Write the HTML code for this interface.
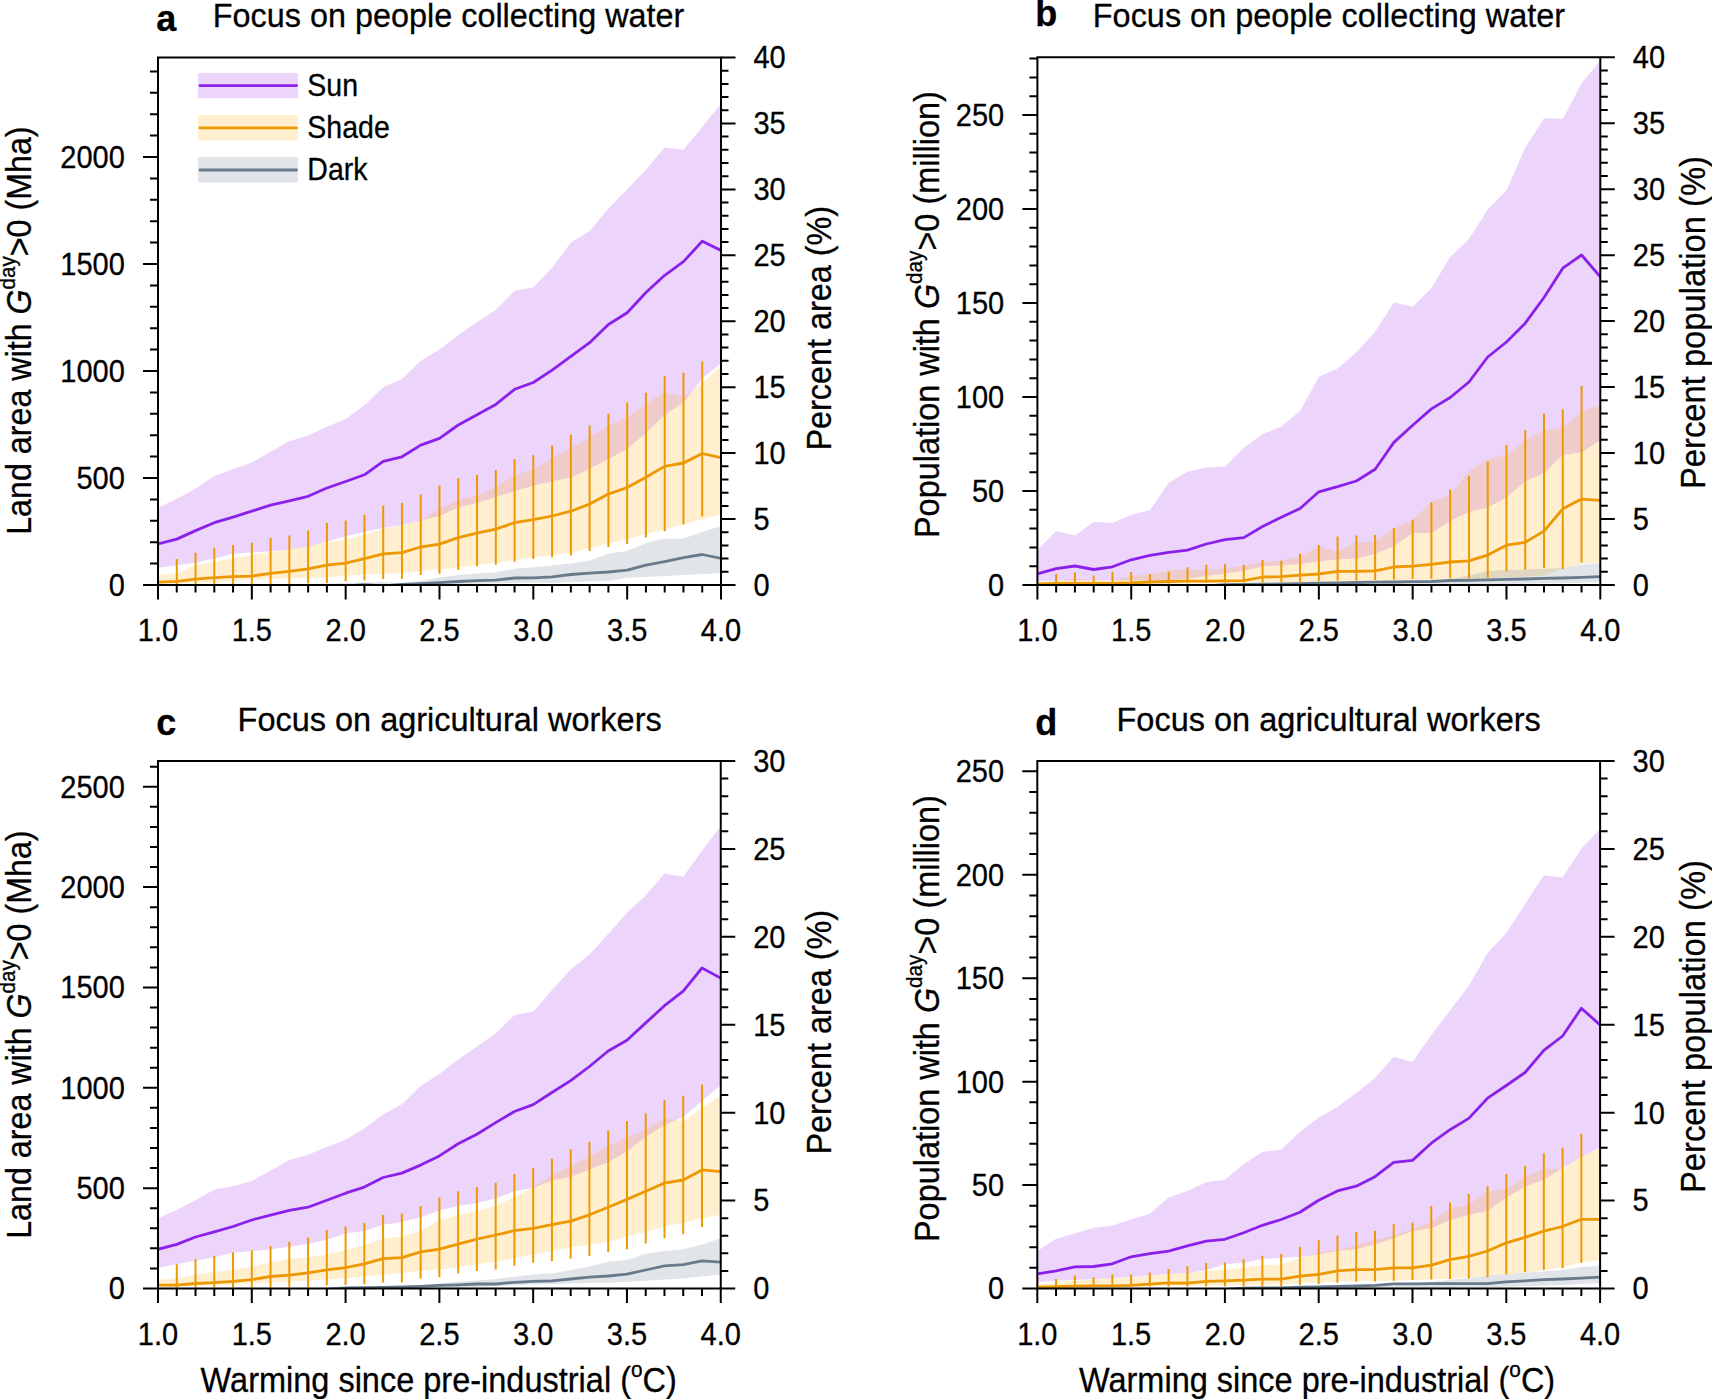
<!DOCTYPE html>
<html><head><meta charset="utf-8"><title>Figure</title>
<style>html,body{margin:0;padding:0;background:#fff;}svg{display:block;}svg text{stroke:#000;stroke-width:0.3px;}</style>
</head><body>
<svg width="1712" height="1399" viewBox="0 0 1712 1399" font-family="'Liberation Sans', Arial, Helvetica, sans-serif">
<rect width="1712" height="1399" fill="#fff"/>
<clipPath id="clipa"><rect x="158" y="57.5" width="563" height="527.5"/></clipPath>
<g clip-path="url(#clipa)">
<polygon points="158,507.7 176.77,498.7 195.53,488.7 214.3,476.1 233.07,469.2 251.83,462.5 270.6,451.8 289.37,441.3 308.13,435.6 326.9,426.7 345.67,419 364.43,405.3 383.2,387.3 401.97,379 420.73,360.7 439.5,349.5 458.27,335.3 477.03,322.1 495.8,310.1 514.57,290.7 533.33,287.5 552.1,267.8 570.87,242.4 589.63,231 608.4,208.4 627.17,189.5 645.93,169.8 664.7,147.5 683.47,149.7 702.23,126.9 721,103.7 721,363.2 702.23,378.4 683.47,402.6 664.7,415.1 645.93,432.9 627.17,449 608.4,458.9 589.63,468.7 570.87,477.6 552.1,481.2 533.33,485.7 514.57,491.1 495.8,497.1 477.03,503.1 458.27,507.6 439.5,515.9 420.73,520.4 401.97,524.9 383.2,527.9 364.43,531.7 345.67,536.2 326.9,541.5 308.13,546.4 289.37,549.4 270.6,551.3 251.83,552.5 233.07,553.7 214.3,558.5 195.53,562.8 176.77,565.2 158,568" fill="rgb(160,40,235)" fill-opacity="0.2"/>
<polygon points="158,574.9 176.77,573.3 195.53,565.2 214.3,561.8 233.07,558 251.83,555.5 270.6,551.8 289.37,549.8 308.13,546.3 326.9,542.1 345.67,540 364.43,534.7 383.2,528.6 401.97,525.6 420.73,520.4 439.5,509.1 458.27,500.1 477.03,495.6 495.8,487.4 514.57,475.3 533.33,469.6 552.1,458 570.87,448.1 589.63,437.4 608.4,425.4 627.17,417.2 645.93,404 664.7,391.8 683.47,397.6 702.23,382.9 721,365.9 721,514.3 702.23,519.6 683.47,524.1 664.7,529.4 645.93,533.9 627.17,539.3 608.4,543.7 589.63,548.2 570.87,552.7 552.1,555 533.33,557.5 514.57,559.9 495.8,562.9 477.03,565.2 458.27,567.5 439.5,569.3 420.73,571 401.97,573.1 383.2,574 364.43,574.5 345.67,575.7 326.9,577.5 308.13,578 289.37,578.5 270.6,579 251.83,579.5 233.07,581 214.3,582.5 195.53,583 176.77,583.5 158,584" fill="rgb(255,175,15)" fill-opacity="0.2"/>
<polygon points="158,585 176.77,585 195.53,585 214.3,585 233.07,585 251.83,585 270.6,585 289.37,584.5 308.13,584 326.9,583.5 345.67,583 364.43,582.5 383.2,582 401.97,583.3 420.73,581 439.5,577.5 458.27,575.1 477.03,573.4 495.8,572.2 514.57,568.7 533.33,567.3 552.1,565.6 570.87,563.4 589.63,560.7 608.4,553.6 627.17,550.9 645.93,542.9 664.7,538.4 683.47,538.4 702.23,532.1 721,525.9 721,573.2 702.23,574.1 683.47,575 664.7,575.9 645.93,577 627.17,577.7 608.4,581 589.63,581.5 570.87,582 552.1,583 533.33,582.5 514.57,583 495.8,583.4 477.03,583.7 458.27,584 439.5,584.3 420.73,584.5 401.97,585 383.2,585 364.43,585 345.67,585 326.9,585 308.13,585 289.37,585 270.6,585 251.83,585 233.07,585 214.3,585 195.53,585 176.77,585 158,585" fill="rgb(105,120,140)" fill-opacity="0.2"/>
<path d="M176.77 559.1V584M195.53 552.8V584M214.3 548V584M233.07 545.2V584M251.83 542.7V584M270.6 537.9V584M289.37 535.4V584M308.13 530.6V583.5M326.9 523V583M345.67 520.4V581.2M364.43 514.8V580.5M383.2 505.4V579M401.97 503.1V579M420.73 494.4V574.9M439.5 485.6V573.7M458.27 478.3V569.9M477.03 474.9V566.2M495.8 470.1V564.7M514.57 459.3V561.7M533.33 455.3V558.9M552.1 445.5V557.2M570.87 434.7V555.4M589.63 425.4V550.9M608.4 413.8V547M627.17 402.6V544.1M645.93 392.7V537.5M664.7 376.3V531.2M683.47 372.7V524.4M702.23 361.4V516.6" stroke="rgb(237,152,0)" stroke-width="2" fill="none"/>
<polyline points="158,585.8 176.77,585.8 195.53,585.8 214.3,585.8 233.07,585.8 251.83,585.8 270.6,585.8 289.37,585.8 308.13,585.8 326.9,585.8 345.67,585.8 364.43,584.6 383.2,585.8 401.97,584.5 420.73,583.6 439.5,582.7 458.27,581.5 477.03,580.6 495.8,580.1 514.57,578 533.33,577.8 552.1,576.8 570.87,574.5 589.63,573.2 608.4,572 627.17,570.2 645.93,565.2 664.7,561.6 683.47,557.7 702.23,554.5 721,558.4" stroke="rgb(104,122,140)" stroke-width="2.8" fill="none" stroke-linejoin="round"/>
<polyline points="158,582.2 176.77,581.4 195.53,579.2 214.3,577.6 233.07,576.7 251.83,576.1 270.6,573.3 289.37,571.3 308.13,568.8 326.9,565.2 345.67,563.2 364.43,558.7 383.2,553.9 401.97,552.7 420.73,547 439.5,544.1 458.27,537.7 477.03,533.2 495.8,529.1 514.57,522.6 533.33,519.6 552.1,516 570.87,511.2 589.63,504.1 608.4,494.1 627.17,487.5 645.93,477.3 664.7,466.4 683.47,463 702.23,453.5 721,457.6" stroke="rgb(237,152,0)" stroke-width="2.8" fill="none" stroke-linejoin="round"/>
<polyline points="158,543.9 176.77,539.1 195.53,530.6 214.3,522.7 233.07,517.2 251.83,511.1 270.6,505.1 289.37,500.8 308.13,496.3 326.9,488 345.67,481.5 364.43,474.8 383.2,461.4 401.97,456.8 420.73,445.1 439.5,438.4 458.27,425 477.03,414.7 495.8,404.4 514.57,389.3 533.33,382.5 552.1,370.1 570.87,356.4 589.63,342.7 608.4,324.5 627.17,312.7 645.93,292.5 664.7,275.3 683.47,261.6 702.23,241.3 721,250.4" stroke="rgb(138,32,233)" stroke-width="2.8" fill="none" stroke-linejoin="round"/>
</g>
<rect x="158" y="57.5" width="563" height="527.5" fill="none" stroke="#000" stroke-width="2"/>
<path d="M158 585v14.5M176.77 585v7.5M195.53 585v7.5M214.3 585v7.5M233.07 585v7.5M251.83 585v14.5M270.6 585v7.5M289.37 585v7.5M308.13 585v7.5M326.9 585v7.5M345.67 585v14.5M364.43 585v7.5M383.2 585v7.5M401.97 585v7.5M420.73 585v7.5M439.5 585v14.5M458.27 585v7.5M477.03 585v7.5M495.8 585v7.5M514.57 585v7.5M533.33 585v14.5M552.1 585v7.5M570.87 585v7.5M589.63 585v7.5M608.4 585v7.5M627.17 585v14.5M645.93 585v7.5M664.7 585v7.5M683.47 585v7.5M702.23 585v7.5M721 585v14.5M158 585h-15M158 563.6h-8M158 542.2h-8M158 520.8h-8M158 499.4h-8M158 478h-15M158 456.6h-8M158 435.2h-8M158 413.8h-8M158 392.4h-8M158 371h-15M158 349.6h-8M158 328.2h-8M158 306.8h-8M158 285.4h-8M158 264h-15M158 242.6h-8M158 221.2h-8M158 199.8h-8M158 178.4h-8M158 157h-15M158 135.6h-8M158 114.2h-8M158 92.8h-8M158 71.4h-8M721 585h14.5M721 571.81h7.5M721 558.62h7.5M721 545.44h7.5M721 532.25h7.5M721 519.06h14.5M721 505.88h7.5M721 492.69h7.5M721 479.5h7.5M721 466.31h7.5M721 453.12h14.5M721 439.94h7.5M721 426.75h7.5M721 413.56h7.5M721 400.38h7.5M721 387.19h14.5M721 374h7.5M721 360.81h7.5M721 347.62h7.5M721 334.44h7.5M721 321.25h14.5M721 308.06h7.5M721 294.88h7.5M721 281.69h7.5M721 268.5h7.5M721 255.31h14.5M721 242.12h7.5M721 228.94h7.5M721 215.75h7.5M721 202.56h7.5M721 189.38h14.5M721 176.19h7.5M721 163h7.5M721 149.81h7.5M721 136.62h7.5M721 123.44h14.5M721 110.25h7.5M721 97.06h7.5M721 83.88h7.5M721 70.69h7.5M721 57.5h14.5" stroke="#000" stroke-width="2" fill="none"/>
<g font-size="30.8"><text x="158" y="641" text-anchor="middle" textLength="40.31" lengthAdjust="spacingAndGlyphs">1.0</text><text x="251.83" y="641" text-anchor="middle" textLength="40.31" lengthAdjust="spacingAndGlyphs">1.5</text><text x="345.67" y="641" text-anchor="middle" textLength="40.31" lengthAdjust="spacingAndGlyphs">2.0</text><text x="439.5" y="641" text-anchor="middle" textLength="40.31" lengthAdjust="spacingAndGlyphs">2.5</text><text x="533.33" y="641" text-anchor="middle" textLength="40.31" lengthAdjust="spacingAndGlyphs">3.0</text><text x="627.17" y="641" text-anchor="middle" textLength="40.31" lengthAdjust="spacingAndGlyphs">3.5</text><text x="721" y="641" text-anchor="middle" textLength="40.31" lengthAdjust="spacingAndGlyphs">4.0</text><text x="124.8" y="595.9" text-anchor="end" textLength="16.12" lengthAdjust="spacingAndGlyphs">0</text><text x="124.8" y="488.9" text-anchor="end" textLength="48.37" lengthAdjust="spacingAndGlyphs">500</text><text x="124.8" y="381.9" text-anchor="end" textLength="64.5" lengthAdjust="spacingAndGlyphs">1000</text><text x="124.8" y="274.9" text-anchor="end" textLength="64.5" lengthAdjust="spacingAndGlyphs">1500</text><text x="124.8" y="167.9" text-anchor="end" textLength="64.5" lengthAdjust="spacingAndGlyphs">2000</text><text x="753.5" y="595.9" textLength="16.12" lengthAdjust="spacingAndGlyphs">0</text><text x="753.5" y="529.96" textLength="16.12" lengthAdjust="spacingAndGlyphs">5</text><text x="753.5" y="464.02" textLength="32.25" lengthAdjust="spacingAndGlyphs">10</text><text x="753.5" y="398.09" textLength="32.25" lengthAdjust="spacingAndGlyphs">15</text><text x="753.5" y="332.15" textLength="32.25" lengthAdjust="spacingAndGlyphs">20</text><text x="753.5" y="266.21" textLength="32.25" lengthAdjust="spacingAndGlyphs">25</text><text x="753.5" y="200.28" textLength="32.25" lengthAdjust="spacingAndGlyphs">30</text><text x="753.5" y="134.34" textLength="32.25" lengthAdjust="spacingAndGlyphs">35</text><text x="753.5" y="68.4" textLength="32.25" lengthAdjust="spacingAndGlyphs">40</text></g>
<clipPath id="clipb"><rect x="1037.4" y="57.25" width="562.9" height="527.75"/></clipPath>
<g clip-path="url(#clipb)">
<polygon points="1037.4,550 1056.16,530.9 1074.93,535.4 1093.69,522 1112.45,523 1131.22,514.8 1149.98,510.2 1168.74,482.7 1187.51,471.7 1206.27,467.5 1225.03,466.4 1243.8,447.7 1262.56,434.2 1281.32,426.6 1300.09,411 1318.85,376.7 1337.61,368.5 1356.38,352.3 1375.14,331.7 1393.9,302.6 1412.67,306.7 1431.43,288 1450.19,257.1 1468.96,239.1 1487.72,209.5 1506.48,190.2 1525.25,147.8 1544.01,118.2 1562.77,118.9 1581.54,83.4 1600.3,60.3 1600.3,440.6 1581.54,452.3 1562.77,455.1 1544.01,473.2 1525.25,481.3 1506.48,497.6 1487.72,507.6 1468.96,512.1 1450.19,521.1 1431.43,532.9 1412.67,532.9 1393.9,546.5 1375.14,553.7 1356.38,558.8 1337.61,559.2 1318.85,561.5 1300.09,563.8 1281.32,565.2 1262.56,566.4 1243.8,570.8 1225.03,573.4 1206.27,576.1 1187.51,578.7 1168.74,580.2 1149.98,580.5 1131.22,580.5 1112.45,580.6 1093.69,580.6 1074.93,580.4 1056.16,580.6 1037.4,581" fill="rgb(160,40,235)" fill-opacity="0.2"/>
<polygon points="1037.4,582.2 1056.16,580.5 1074.93,578.7 1093.69,580.5 1112.45,580.5 1131.22,575.7 1149.98,574.7 1168.74,570.3 1187.51,569.4 1206.27,569.9 1225.03,568.7 1243.8,565.9 1262.56,561.7 1281.32,560.8 1300.09,556.5 1318.85,546.5 1337.61,551.9 1356.38,542 1375.14,542 1393.9,528.4 1412.67,520.2 1431.43,502.1 1450.19,494.9 1468.96,471.4 1487.72,459.2 1506.48,455.1 1525.25,440.6 1544.01,429.7 1562.77,427.9 1581.54,411.6 1600.3,405.3 1600.3,562.6 1581.54,563.9 1562.77,568.2 1544.01,575.5 1525.25,576.4 1506.48,577.3 1487.72,578.2 1468.96,579 1450.19,580 1431.43,580.2 1412.67,580.5 1393.9,580.8 1375.14,581.1 1356.38,581.4 1337.61,581.7 1318.85,582 1300.09,582.2 1281.32,582.4 1262.56,582.6 1243.8,582.8 1225.03,583 1206.27,583.2 1187.51,583.4 1168.74,583.6 1149.98,583.8 1131.22,584 1112.45,584.1 1093.69,584.2 1074.93,584.3 1056.16,584.4 1037.4,584.5" fill="rgb(255,175,15)" fill-opacity="0.2"/>
<polygon points="1037.4,585 1056.16,585 1074.93,585 1093.69,585 1112.45,585 1131.22,585 1149.98,585 1168.74,584.8 1187.51,584.6 1206.27,584.4 1225.03,584.2 1243.8,584 1262.56,583.8 1281.32,583.6 1300.09,583.4 1318.85,583.2 1337.61,583 1356.38,582.8 1375.14,582.6 1393.9,582.3 1412.67,582 1431.43,581 1450.19,579.3 1468.96,575.6 1487.72,570.7 1506.48,570.1 1525.25,569.4 1544.01,568.8 1562.77,568 1581.54,564.8 1600.3,563.1 1600.3,582.3 1581.54,582.8 1562.77,583.2 1544.01,583.5 1525.25,583.8 1506.48,584 1487.72,584.2 1468.96,584.4 1450.19,584.6 1431.43,584.8 1412.67,585 1393.9,585 1375.14,585 1356.38,585 1337.61,585 1318.85,585 1300.09,585 1281.32,585 1262.56,585 1243.8,585 1225.03,585 1206.27,585 1187.51,585 1168.74,585 1149.98,585 1131.22,585 1112.45,585 1093.69,585 1074.93,585 1056.16,585 1037.4,585" fill="rgb(105,120,140)" fill-opacity="0.2"/>
<path d="M1056.16 574V584M1074.93 572.6V584M1093.69 575.4V583.8M1112.45 572V583.8M1131.22 571.9V583.6M1149.98 574V583.5M1168.74 571.7V583.4M1187.51 567.3V583.2M1206.27 564.7V583M1225.03 564.2V582.8M1243.8 564.7V582.6M1262.56 560V582.4M1281.32 560.8V582.2M1300.09 553.8V582M1318.85 545V581.3M1337.61 536.5V580.5M1356.38 535.6V580.5M1375.14 534.7V580M1393.9 528V579.4M1412.67 519.7V579M1431.43 502.5V578.8M1450.19 489.5V578.3M1468.96 475.9V578.4M1487.72 461.8V577.8M1506.48 445.1V571.6M1525.25 430.3V569.7M1544.01 413.6V568M1562.77 409.4V569.2M1581.54 385.9V562.6" stroke="rgb(237,152,0)" stroke-width="2" fill="none"/>
<polyline points="1037.4,585.8 1056.16,585.8 1074.93,585.8 1093.69,585.8 1112.45,585.8 1131.22,585.8 1149.98,585.8 1168.74,585.8 1187.51,585.8 1206.27,585.8 1225.03,584.6 1243.8,584.4 1262.56,584.2 1281.32,584 1300.09,583.6 1318.85,583.2 1337.61,582.8 1356.38,582.5 1375.14,582.2 1393.9,582 1412.67,581.7 1431.43,581.5 1450.19,580.5 1468.96,580.3 1487.72,579.9 1506.48,579.3 1525.25,579 1544.01,578.4 1562.77,578 1581.54,577.4 1600.3,576.6" stroke="rgb(104,122,140)" stroke-width="2.8" fill="none" stroke-linejoin="round"/>
<polyline points="1037.4,583.8 1056.16,583.5 1074.93,583.3 1093.69,583.3 1112.45,583.3 1131.22,582.9 1149.98,582 1168.74,581.5 1187.51,581.2 1206.27,581.2 1225.03,580.8 1243.8,580.6 1262.56,577 1281.32,576.6 1300.09,575.2 1318.85,574 1337.61,571.3 1356.38,571.3 1375.14,570.9 1393.9,567 1412.67,566.2 1431.43,564.3 1450.19,562 1468.96,560.8 1487.72,555.1 1506.48,545.2 1525.25,542.3 1544.01,531.1 1562.77,508.8 1581.54,499.1 1600.3,500.3" stroke="rgb(237,152,0)" stroke-width="2.8" fill="none" stroke-linejoin="round"/>
<polyline points="1037.4,573.8 1056.16,568.6 1074.93,566 1093.69,569.5 1112.45,566.8 1131.22,559.8 1149.98,555.4 1168.74,552.3 1187.51,550.2 1206.27,544 1225.03,539.7 1243.8,537.6 1262.56,526.5 1281.32,517.2 1300.09,508.5 1318.85,491.8 1337.61,486.7 1356.38,481 1375.14,469.2 1393.9,442.4 1412.67,425.2 1431.43,408.9 1450.19,397.5 1468.96,382 1487.72,357 1506.48,342 1525.25,323.2 1544.01,297.5 1562.77,268.2 1581.54,255 1600.3,276.9" stroke="rgb(138,32,233)" stroke-width="2.8" fill="none" stroke-linejoin="round"/>
</g>
<rect x="1037.4" y="57.25" width="562.9" height="527.75" fill="none" stroke="#000" stroke-width="2"/>
<path d="M1037.4 585v14.5M1056.16 585v7.5M1074.93 585v7.5M1093.69 585v7.5M1112.45 585v7.5M1131.22 585v14.5M1149.98 585v7.5M1168.74 585v7.5M1187.51 585v7.5M1206.27 585v7.5M1225.03 585v14.5M1243.8 585v7.5M1262.56 585v7.5M1281.32 585v7.5M1300.09 585v7.5M1318.85 585v14.5M1337.61 585v7.5M1356.38 585v7.5M1375.14 585v7.5M1393.9 585v7.5M1412.67 585v14.5M1431.43 585v7.5M1450.19 585v7.5M1468.96 585v7.5M1487.72 585v7.5M1506.48 585v14.5M1525.25 585v7.5M1544.01 585v7.5M1562.77 585v7.5M1581.54 585v7.5M1600.3 585v14.5M1037.4 585h-15M1037.4 566.2h-8M1037.4 547.4h-8M1037.4 528.6h-8M1037.4 509.8h-8M1037.4 491h-15M1037.4 472.2h-8M1037.4 453.4h-8M1037.4 434.6h-8M1037.4 415.8h-8M1037.4 397h-15M1037.4 378.2h-8M1037.4 359.4h-8M1037.4 340.6h-8M1037.4 321.8h-8M1037.4 303h-15M1037.4 284.2h-8M1037.4 265.4h-8M1037.4 246.6h-8M1037.4 227.8h-8M1037.4 209h-15M1037.4 190.2h-8M1037.4 171.4h-8M1037.4 152.6h-8M1037.4 133.8h-8M1037.4 115h-15M1037.4 96.2h-8M1037.4 77.4h-8M1037.4 58.6h-8M1600.3 585h14.5M1600.3 571.81h7.5M1600.3 558.61h7.5M1600.3 545.42h7.5M1600.3 532.23h7.5M1600.3 519.03h14.5M1600.3 505.84h7.5M1600.3 492.64h7.5M1600.3 479.45h7.5M1600.3 466.26h7.5M1600.3 453.06h14.5M1600.3 439.87h7.5M1600.3 426.68h7.5M1600.3 413.48h7.5M1600.3 400.29h7.5M1600.3 387.09h14.5M1600.3 373.9h7.5M1600.3 360.71h7.5M1600.3 347.51h7.5M1600.3 334.32h7.5M1600.3 321.12h14.5M1600.3 307.93h7.5M1600.3 294.74h7.5M1600.3 281.54h7.5M1600.3 268.35h7.5M1600.3 255.16h14.5M1600.3 241.96h7.5M1600.3 228.77h7.5M1600.3 215.57h7.5M1600.3 202.38h7.5M1600.3 189.19h14.5M1600.3 175.99h7.5M1600.3 162.8h7.5M1600.3 149.61h7.5M1600.3 136.41h7.5M1600.3 123.22h14.5M1600.3 110.02h7.5M1600.3 96.83h7.5M1600.3 83.64h7.5M1600.3 70.44h7.5M1600.3 57.25h14.5" stroke="#000" stroke-width="2" fill="none"/>
<g font-size="30.8"><text x="1037.4" y="641" text-anchor="middle" textLength="40.31" lengthAdjust="spacingAndGlyphs">1.0</text><text x="1131.22" y="641" text-anchor="middle" textLength="40.31" lengthAdjust="spacingAndGlyphs">1.5</text><text x="1225.03" y="641" text-anchor="middle" textLength="40.31" lengthAdjust="spacingAndGlyphs">2.0</text><text x="1318.85" y="641" text-anchor="middle" textLength="40.31" lengthAdjust="spacingAndGlyphs">2.5</text><text x="1412.67" y="641" text-anchor="middle" textLength="40.31" lengthAdjust="spacingAndGlyphs">3.0</text><text x="1506.48" y="641" text-anchor="middle" textLength="40.31" lengthAdjust="spacingAndGlyphs">3.5</text><text x="1600.3" y="641" text-anchor="middle" textLength="40.31" lengthAdjust="spacingAndGlyphs">4.0</text><text x="1004.2" y="595.9" text-anchor="end" textLength="16.12" lengthAdjust="spacingAndGlyphs">0</text><text x="1004.2" y="501.9" text-anchor="end" textLength="32.25" lengthAdjust="spacingAndGlyphs">50</text><text x="1004.2" y="407.9" text-anchor="end" textLength="48.37" lengthAdjust="spacingAndGlyphs">100</text><text x="1004.2" y="313.9" text-anchor="end" textLength="48.37" lengthAdjust="spacingAndGlyphs">150</text><text x="1004.2" y="219.9" text-anchor="end" textLength="48.37" lengthAdjust="spacingAndGlyphs">200</text><text x="1004.2" y="125.9" text-anchor="end" textLength="48.37" lengthAdjust="spacingAndGlyphs">250</text><text x="1632.8" y="595.9" textLength="16.12" lengthAdjust="spacingAndGlyphs">0</text><text x="1632.8" y="529.93" textLength="16.12" lengthAdjust="spacingAndGlyphs">5</text><text x="1632.8" y="463.96" textLength="32.25" lengthAdjust="spacingAndGlyphs">10</text><text x="1632.8" y="397.99" textLength="32.25" lengthAdjust="spacingAndGlyphs">15</text><text x="1632.8" y="332.02" textLength="32.25" lengthAdjust="spacingAndGlyphs">20</text><text x="1632.8" y="266.06" textLength="32.25" lengthAdjust="spacingAndGlyphs">25</text><text x="1632.8" y="200.09" textLength="32.25" lengthAdjust="spacingAndGlyphs">30</text><text x="1632.8" y="134.12" textLength="32.25" lengthAdjust="spacingAndGlyphs">35</text><text x="1632.8" y="68.15" textLength="32.25" lengthAdjust="spacingAndGlyphs">40</text></g>
<clipPath id="clipc"><rect x="158" y="761" width="562.75" height="527.5"/></clipPath>
<g clip-path="url(#clipc)">
<polygon points="158,1218.3 176.76,1209.9 195.52,1200.2 214.28,1189.4 233.03,1186.2 251.79,1181 270.55,1170.5 289.31,1159.9 308.07,1154.7 326.82,1147.1 345.58,1139.8 364.34,1128.4 383.1,1114.4 401.86,1104.3 420.62,1085.9 439.38,1074.1 458.13,1059.5 476.89,1046.5 495.65,1033.5 514.41,1015.1 533.17,1011.8 551.92,989.9 570.68,969.4 589.44,954.5 608.2,934 626.96,912.8 645.72,895.5 664.48,873.6 683.23,876.7 701.99,850.7 720.75,826 720.75,1085 701.99,1101 683.23,1117 664.48,1125.1 645.72,1136.9 626.96,1151.4 608.2,1162.3 589.44,1169.5 570.68,1176.7 551.92,1180.4 533.17,1188 514.41,1191.2 495.65,1198.5 476.89,1203 458.13,1206.1 439.38,1210.5 420.62,1217.2 401.86,1222.1 383.1,1224.8 364.34,1230.9 345.58,1233.5 326.82,1239.7 308.07,1244 289.31,1246.7 270.55,1249.3 251.79,1251.1 233.03,1252.8 214.28,1257.2 195.52,1260.7 176.76,1264.2 158,1267.7" fill="rgb(160,40,235)" fill-opacity="0.2"/>
<polygon points="158,1280 176.76,1278.2 195.52,1274.7 214.28,1272.1 233.03,1269.5 251.79,1266.8 270.55,1262.4 289.31,1258.9 308.07,1257.2 326.82,1254.6 345.58,1250.2 364.34,1244.9 383.1,1238.8 401.86,1236.2 420.62,1230.9 439.38,1220 458.13,1215 476.89,1211 495.65,1206 514.41,1197 533.17,1187.6 551.92,1174.9 570.68,1165.9 589.44,1156.8 608.2,1146 626.96,1136.9 645.72,1129.7 664.48,1117.9 683.23,1121.5 701.99,1108 720.75,1095.5 720.75,1214.8 701.99,1218.4 683.23,1222.9 664.48,1226.5 645.72,1232 626.96,1236.5 608.2,1241.9 589.44,1244.6 570.68,1247.4 551.92,1251 533.17,1254.6 514.41,1258.2 495.65,1261.8 476.89,1264.6 458.13,1267.3 439.38,1269.4 420.62,1270.8 401.86,1273 383.1,1274.7 364.34,1276.5 345.58,1278.2 326.82,1279.5 308.07,1280.8 289.31,1281.7 270.55,1282.6 251.79,1283.5 233.03,1284.9 214.28,1285.4 195.52,1285.8 176.76,1286.2 158,1286.5" fill="rgb(255,175,15)" fill-opacity="0.2"/>
<polygon points="158,1288.5 176.76,1288.5 195.52,1288.5 214.28,1288.5 233.03,1288.5 251.79,1288.5 270.55,1288.5 289.31,1288.3 308.07,1288 326.82,1287.6 345.58,1287.2 364.34,1286.8 383.1,1286.4 401.86,1286 420.62,1285.4 439.38,1283.6 458.13,1281.8 476.89,1280.4 495.65,1279 514.41,1276.8 533.17,1274.5 551.92,1273.6 570.68,1270 589.44,1266.4 608.2,1261.8 626.96,1260 645.72,1253.7 664.48,1251 683.23,1249.2 701.99,1244.6 720.75,1238.3 720.75,1274.5 701.99,1276.5 683.23,1278.5 664.48,1279.6 645.72,1280.8 626.96,1281.7 608.2,1282.7 589.44,1283.1 570.68,1283.5 551.92,1284 533.17,1284.5 514.41,1285.2 495.65,1286 476.89,1287 458.13,1288 439.38,1288.5 420.62,1288.5 401.86,1288.5 383.1,1288.5 364.34,1288.5 345.58,1288.5 326.82,1288.5 308.07,1288.5 289.31,1288.5 270.55,1288.5 251.79,1288.5 233.03,1288.5 214.28,1288.5 195.52,1288.5 176.76,1288.5 158,1288.5" fill="rgb(105,120,140)" fill-opacity="0.2"/>
<path d="M176.76 1264.2V1287.5M195.52 1259.3V1287.5M214.28 1255.8V1287.5M233.03 1252.3V1287.5M251.79 1250.5V1287.5M270.55 1246V1287.5M289.31 1241.8V1287.5M308.07 1237.4V1287.5M326.82 1229.9V1285.2M345.58 1226.5V1284.9M364.34 1223V1284.3M383.1 1215.1V1282.6M401.86 1213.4V1282.6M420.62 1206.2V1278.5M439.38 1197.6V1277.2M458.13 1191.2V1273.6M476.89 1187.2V1270.9M495.65 1182.7V1269.4M514.41 1174V1265.8M533.17 1168V1262.7M551.92 1158.6V1260.9M570.68 1149.2V1258.6M589.44 1141.8V1256M608.2 1130.6V1252.2M626.96 1121V1249.2M645.72 1113.4V1243.4M664.48 1100.2V1238.3M683.23 1095.8V1234.3M701.99 1084.4V1227.1" stroke="rgb(237,152,0)" stroke-width="2" fill="none"/>
<polyline points="158,1289.3 176.76,1289.3 195.52,1289.3 214.28,1289.3 233.03,1289.3 251.79,1289.3 270.55,1289.3 289.31,1289.3 308.07,1289.3 326.82,1289.3 345.58,1288 364.34,1287.7 383.1,1287.3 401.86,1286.8 420.62,1286.3 439.38,1285.4 458.13,1284.8 476.89,1284 495.65,1284 514.41,1282.3 533.17,1281.4 551.92,1280.8 570.68,1279 589.44,1277.2 608.2,1276 626.96,1274.2 645.72,1270 664.48,1265.8 683.23,1264.6 701.99,1260.9 720.75,1262.2" stroke="rgb(104,122,140)" stroke-width="2.8" fill="none" stroke-linejoin="round"/>
<polyline points="158,1285.2 176.76,1285.2 195.52,1283.5 214.28,1282.6 233.03,1281.4 251.79,1279.6 270.55,1276.5 289.31,1275.2 308.07,1272.9 326.82,1269.8 345.58,1267.7 364.34,1263.8 383.1,1258.6 401.86,1257.7 420.62,1251.8 439.38,1249.2 458.13,1244.1 476.89,1239.2 495.65,1235 514.41,1230.7 533.17,1228.3 551.92,1224.7 570.68,1221.1 589.44,1214.8 608.2,1207.2 626.96,1199.4 645.72,1191.2 664.48,1183.1 683.23,1180 701.99,1169.9 720.75,1171.7" stroke="rgb(237,152,0)" stroke-width="2.8" fill="none" stroke-linejoin="round"/>
<polyline points="158,1249.3 176.76,1244.4 195.52,1237 214.28,1231.8 233.03,1226.5 251.79,1220 270.55,1215.1 289.31,1210.4 308.07,1207.2 326.82,1200.2 345.58,1193.2 364.34,1187.1 383.1,1177.5 401.86,1173.1 420.62,1165.1 439.38,1155.9 458.13,1143.8 476.89,1134.2 495.65,1122.6 514.41,1111.5 533.17,1104.6 551.92,1092.5 570.68,1080.6 589.44,1066.5 608.2,1051 626.96,1040.2 645.72,1022.9 664.48,1005.7 683.23,991.1 701.99,968 720.75,978.1" stroke="rgb(138,32,233)" stroke-width="2.8" fill="none" stroke-linejoin="round"/>
</g>
<rect x="158" y="761" width="562.75" height="527.5" fill="none" stroke="#000" stroke-width="2"/>
<path d="M158 1288.5v14.5M176.76 1288.5v7.5M195.52 1288.5v7.5M214.28 1288.5v7.5M233.03 1288.5v7.5M251.79 1288.5v14.5M270.55 1288.5v7.5M289.31 1288.5v7.5M308.07 1288.5v7.5M326.82 1288.5v7.5M345.58 1288.5v14.5M364.34 1288.5v7.5M383.1 1288.5v7.5M401.86 1288.5v7.5M420.62 1288.5v7.5M439.38 1288.5v14.5M458.13 1288.5v7.5M476.89 1288.5v7.5M495.65 1288.5v7.5M514.41 1288.5v7.5M533.17 1288.5v14.5M551.92 1288.5v7.5M570.68 1288.5v7.5M589.44 1288.5v7.5M608.2 1288.5v7.5M626.96 1288.5v14.5M645.72 1288.5v7.5M664.48 1288.5v7.5M683.23 1288.5v7.5M701.99 1288.5v7.5M720.75 1288.5v14.5M158 1288.5h-15M158 1268.43h-8M158 1248.36h-8M158 1228.29h-8M158 1208.22h-8M158 1188.15h-15M158 1168.08h-8M158 1148.01h-8M158 1127.94h-8M158 1107.87h-8M158 1087.8h-15M158 1067.73h-8M158 1047.66h-8M158 1027.59h-8M158 1007.52h-8M158 987.45h-15M158 967.38h-8M158 947.31h-8M158 927.24h-8M158 907.17h-8M158 887.1h-15M158 867.03h-8M158 846.96h-8M158 826.89h-8M158 806.82h-8M158 786.75h-15M158 766.68h-8M720.75 1288.5h14.5M720.75 1270.92h7.5M720.75 1253.33h7.5M720.75 1235.75h7.5M720.75 1218.17h7.5M720.75 1200.58h14.5M720.75 1183h7.5M720.75 1165.42h7.5M720.75 1147.83h7.5M720.75 1130.25h7.5M720.75 1112.67h14.5M720.75 1095.08h7.5M720.75 1077.5h7.5M720.75 1059.92h7.5M720.75 1042.33h7.5M720.75 1024.75h14.5M720.75 1007.17h7.5M720.75 989.58h7.5M720.75 972h7.5M720.75 954.42h7.5M720.75 936.83h14.5M720.75 919.25h7.5M720.75 901.67h7.5M720.75 884.08h7.5M720.75 866.5h7.5M720.75 848.92h14.5M720.75 831.33h7.5M720.75 813.75h7.5M720.75 796.17h7.5M720.75 778.58h7.5M720.75 761h14.5" stroke="#000" stroke-width="2" fill="none"/>
<g font-size="30.8"><text x="158" y="1344.5" text-anchor="middle" textLength="40.31" lengthAdjust="spacingAndGlyphs">1.0</text><text x="251.79" y="1344.5" text-anchor="middle" textLength="40.31" lengthAdjust="spacingAndGlyphs">1.5</text><text x="345.58" y="1344.5" text-anchor="middle" textLength="40.31" lengthAdjust="spacingAndGlyphs">2.0</text><text x="439.38" y="1344.5" text-anchor="middle" textLength="40.31" lengthAdjust="spacingAndGlyphs">2.5</text><text x="533.17" y="1344.5" text-anchor="middle" textLength="40.31" lengthAdjust="spacingAndGlyphs">3.0</text><text x="626.96" y="1344.5" text-anchor="middle" textLength="40.31" lengthAdjust="spacingAndGlyphs">3.5</text><text x="720.75" y="1344.5" text-anchor="middle" textLength="40.31" lengthAdjust="spacingAndGlyphs">4.0</text><text x="124.8" y="1299.4" text-anchor="end" textLength="16.12" lengthAdjust="spacingAndGlyphs">0</text><text x="124.8" y="1199.05" text-anchor="end" textLength="48.37" lengthAdjust="spacingAndGlyphs">500</text><text x="124.8" y="1098.7" text-anchor="end" textLength="64.5" lengthAdjust="spacingAndGlyphs">1000</text><text x="124.8" y="998.35" text-anchor="end" textLength="64.5" lengthAdjust="spacingAndGlyphs">1500</text><text x="124.8" y="898" text-anchor="end" textLength="64.5" lengthAdjust="spacingAndGlyphs">2000</text><text x="124.8" y="797.65" text-anchor="end" textLength="64.5" lengthAdjust="spacingAndGlyphs">2500</text><text x="753.25" y="1299.4" textLength="16.12" lengthAdjust="spacingAndGlyphs">0</text><text x="753.25" y="1211.48" textLength="16.12" lengthAdjust="spacingAndGlyphs">5</text><text x="753.25" y="1123.57" textLength="32.25" lengthAdjust="spacingAndGlyphs">10</text><text x="753.25" y="1035.65" textLength="32.25" lengthAdjust="spacingAndGlyphs">15</text><text x="753.25" y="947.73" textLength="32.25" lengthAdjust="spacingAndGlyphs">20</text><text x="753.25" y="859.82" textLength="32.25" lengthAdjust="spacingAndGlyphs">25</text><text x="753.25" y="771.9" textLength="32.25" lengthAdjust="spacingAndGlyphs">30</text></g>
<clipPath id="clipd"><rect x="1037.3" y="761" width="562.8" height="527.5"/></clipPath>
<g clip-path="url(#clipd)">
<polygon points="1037.3,1251.1 1056.06,1238.8 1074.82,1233.5 1093.58,1227.8 1112.34,1225.6 1131.1,1219.5 1149.86,1213.7 1168.62,1197.6 1187.38,1191 1206.14,1182.2 1224.9,1179.7 1243.66,1164.3 1262.42,1152.1 1281.18,1149.4 1299.94,1132 1318.7,1117.5 1337.46,1107 1356.22,1093.1 1374.98,1078.1 1393.74,1056.8 1412.5,1061.9 1431.26,1034.9 1450.02,1010.5 1468.78,986.1 1487.54,952.9 1506.3,933 1525.06,904.1 1543.82,875.3 1562.58,877.6 1581.34,848.7 1600.1,828.8 1600.1,1147.8 1581.34,1156.8 1562.58,1168.6 1543.82,1179.5 1525.06,1186.7 1506.3,1197.6 1487.54,1211.1 1468.78,1214.8 1450.02,1220.2 1431.26,1228.3 1412.5,1231.1 1393.74,1238.3 1374.98,1244.6 1356.22,1249.2 1337.46,1251 1318.7,1254.2 1299.94,1256.8 1281.18,1258.1 1262.42,1258.9 1243.66,1262.8 1224.9,1264.2 1206.14,1270.3 1187.38,1273 1168.62,1273.8 1149.86,1275.6 1131.1,1277.3 1112.34,1278.2 1093.58,1279.1 1074.82,1280 1056.06,1280.8 1037.3,1282.6" fill="rgb(160,40,235)" fill-opacity="0.2"/>
<polygon points="1037.3,1284.3 1056.06,1282.6 1074.82,1280.8 1093.58,1279.6 1112.34,1278.6 1131.1,1277.9 1149.86,1275.6 1168.62,1273.8 1187.38,1273 1206.14,1271.2 1224.9,1269.5 1243.66,1267.7 1262.42,1265.1 1281.18,1264.2 1299.94,1258.1 1318.7,1252.4 1337.46,1250.1 1356.22,1245.5 1374.98,1240.1 1393.74,1235.6 1412.5,1229.3 1431.26,1222 1450.02,1208.4 1468.78,1204.8 1487.54,1191.2 1506.3,1189.4 1525.06,1176.7 1543.82,1168.6 1562.58,1169.5 1581.34,1155.9 1600.1,1148.7 1600.1,1260 1581.34,1262.7 1562.58,1267.3 1543.82,1270 1525.06,1272.7 1506.3,1274 1487.54,1275.4 1468.78,1277.5 1450.02,1279 1431.26,1279.5 1412.5,1280 1393.74,1280.5 1374.98,1280.8 1356.22,1281 1337.46,1281.5 1318.7,1282.5 1299.94,1283 1281.18,1284.5 1262.42,1285 1243.66,1285.3 1224.9,1285.5 1206.14,1285.7 1187.38,1285.9 1168.62,1286.1 1149.86,1286.3 1131.1,1286.5 1112.34,1286.7 1093.58,1286.9 1074.82,1287.1 1056.06,1287.3 1037.3,1287.5" fill="rgb(255,175,15)" fill-opacity="0.2"/>
<polygon points="1037.3,1288.5 1056.06,1288.5 1074.82,1288.5 1093.58,1288.5 1112.34,1288.5 1131.1,1288.5 1149.86,1288.5 1168.62,1288.5 1187.38,1288.3 1206.14,1288.1 1224.9,1287.9 1243.66,1287.7 1262.42,1287.5 1281.18,1287.3 1299.94,1287 1318.7,1286.6 1337.46,1286.2 1356.22,1285.8 1374.98,1285.3 1393.74,1284.6 1412.5,1283.8 1431.26,1282 1450.02,1280 1468.78,1278.1 1487.54,1275.4 1506.3,1274 1525.06,1272.7 1543.82,1271.3 1562.58,1270 1581.34,1266.9 1600.1,1265.5 1600.1,1283 1581.34,1284 1562.58,1285 1543.82,1285.8 1525.06,1286.3 1506.3,1286.8 1487.54,1287.2 1468.78,1287.6 1450.02,1288 1431.26,1288.3 1412.5,1288.5 1393.74,1288.5 1374.98,1288.5 1356.22,1288.5 1337.46,1288.5 1318.7,1288.5 1299.94,1288.5 1281.18,1288.5 1262.42,1288.5 1243.66,1288.5 1224.9,1288.5 1206.14,1288.5 1187.38,1288.5 1168.62,1288.5 1149.86,1288.5 1131.1,1288.5 1112.34,1288.5 1093.58,1288.5 1074.82,1288.5 1056.06,1288.5 1037.3,1288.5" fill="rgb(105,120,140)" fill-opacity="0.2"/>
<path d="M1056.06 1279.1V1286.6M1074.82 1275.6V1286.6M1093.58 1277.3V1286.6M1112.34 1274.4V1286.6M1131.1 1274.7V1286.6M1149.86 1272.6V1286.6M1168.62 1269.1V1286.6M1187.38 1266.3V1286.6M1206.14 1263V1286.6M1224.9 1262.4V1286.6M1243.66 1259.3V1286.6M1262.42 1255.8V1286.6M1281.18 1254V1286.6M1299.94 1247V1285M1318.7 1240.3V1283.9M1337.46 1235.6V1282.7M1356.22 1232V1281.8M1374.98 1230.7V1281.4M1393.74 1224.2V1280.8M1412.5 1222.4V1280M1431.26 1206.1V1279.6M1450.02 1202.5V1279M1468.78 1194V1278.5M1487.54 1186.2V1277.2M1506.3 1174V1274.5M1525.06 1165.9V1271.8M1543.82 1153.6V1270M1562.58 1147.8V1268.2M1581.34 1133.7V1262.7" stroke="rgb(237,152,0)" stroke-width="2" fill="none"/>
<polyline points="1037.3,1289.3 1056.06,1289.3 1074.82,1289.3 1093.58,1289.3 1112.34,1289.3 1131.1,1289.3 1149.86,1289.3 1168.62,1289.3 1187.38,1289.3 1206.14,1289.3 1224.9,1289.3 1243.66,1288.2 1262.42,1288 1281.18,1287.8 1299.94,1287.2 1318.7,1286.8 1337.46,1286.4 1356.22,1286 1374.98,1285.4 1393.74,1283.9 1412.5,1283.8 1431.26,1283.7 1450.02,1283.6 1468.78,1283.6 1487.54,1283.6 1506.3,1281.8 1525.06,1280.8 1543.82,1279.6 1562.58,1279 1581.34,1278.1 1600.1,1277.2" stroke="rgb(104,122,140)" stroke-width="2.8" fill="none" stroke-linejoin="round"/>
<polyline points="1037.3,1287.2 1056.06,1286.7 1074.82,1286.2 1093.58,1285.8 1112.34,1285.8 1131.1,1285.3 1149.86,1284.1 1168.62,1282.8 1187.38,1283.2 1206.14,1281.4 1224.9,1280.9 1243.66,1280.2 1262.42,1279.2 1281.18,1279.2 1299.94,1276.2 1318.7,1274.4 1337.46,1270.9 1356.22,1269.6 1374.98,1269.6 1393.74,1267.8 1412.5,1267.8 1431.26,1265.1 1450.02,1259.7 1468.78,1256.4 1487.54,1251 1506.3,1242.8 1525.06,1237.4 1543.82,1231.1 1562.58,1226.5 1581.34,1219.3 1600.1,1219.3" stroke="rgb(237,152,0)" stroke-width="2.8" fill="none" stroke-linejoin="round"/>
<polyline points="1037.3,1273.8 1056.06,1270.9 1074.82,1266.8 1093.58,1266.5 1112.34,1263.8 1131.1,1256.8 1149.86,1253.7 1168.62,1251.1 1187.38,1245.8 1206.14,1241.1 1224.9,1239.3 1243.66,1232.7 1262.42,1225.3 1281.18,1219.5 1299.94,1212.3 1318.7,1200.3 1337.46,1190.9 1356.22,1186.2 1374.98,1176.7 1393.74,1162.3 1412.5,1160.4 1431.26,1143.2 1450.02,1129.7 1468.78,1118.4 1487.54,1098.2 1506.3,1085.5 1525.06,1072.5 1543.82,1050.4 1562.58,1036 1581.34,1008.3 1600.1,1024.9" stroke="rgb(138,32,233)" stroke-width="2.8" fill="none" stroke-linejoin="round"/>
</g>
<rect x="1037.3" y="761" width="562.8" height="527.5" fill="none" stroke="#000" stroke-width="2"/>
<path d="M1037.3 1288.5v14.5M1056.06 1288.5v7.5M1074.82 1288.5v7.5M1093.58 1288.5v7.5M1112.34 1288.5v7.5M1131.1 1288.5v14.5M1149.86 1288.5v7.5M1168.62 1288.5v7.5M1187.38 1288.5v7.5M1206.14 1288.5v7.5M1224.9 1288.5v14.5M1243.66 1288.5v7.5M1262.42 1288.5v7.5M1281.18 1288.5v7.5M1299.94 1288.5v7.5M1318.7 1288.5v14.5M1337.46 1288.5v7.5M1356.22 1288.5v7.5M1374.98 1288.5v7.5M1393.74 1288.5v7.5M1412.5 1288.5v14.5M1431.26 1288.5v7.5M1450.02 1288.5v7.5M1468.78 1288.5v7.5M1487.54 1288.5v7.5M1506.3 1288.5v14.5M1525.06 1288.5v7.5M1543.82 1288.5v7.5M1562.58 1288.5v7.5M1581.34 1288.5v7.5M1600.1 1288.5v14.5M1037.3 1288.5h-15M1037.3 1267.81h-8M1037.3 1247.13h-8M1037.3 1226.44h-8M1037.3 1205.76h-8M1037.3 1185.07h-15M1037.3 1164.38h-8M1037.3 1143.7h-8M1037.3 1123.01h-8M1037.3 1102.33h-8M1037.3 1081.64h-15M1037.3 1060.95h-8M1037.3 1040.27h-8M1037.3 1019.58h-8M1037.3 998.9h-8M1037.3 978.21h-15M1037.3 957.52h-8M1037.3 936.84h-8M1037.3 916.15h-8M1037.3 895.47h-8M1037.3 874.78h-15M1037.3 854.09h-8M1037.3 833.41h-8M1037.3 812.72h-8M1037.3 792.04h-8M1037.3 771.35h-15M1600.1 1288.5h14.5M1600.1 1270.92h7.5M1600.1 1253.33h7.5M1600.1 1235.75h7.5M1600.1 1218.17h7.5M1600.1 1200.58h14.5M1600.1 1183h7.5M1600.1 1165.42h7.5M1600.1 1147.83h7.5M1600.1 1130.25h7.5M1600.1 1112.67h14.5M1600.1 1095.08h7.5M1600.1 1077.5h7.5M1600.1 1059.92h7.5M1600.1 1042.33h7.5M1600.1 1024.75h14.5M1600.1 1007.17h7.5M1600.1 989.58h7.5M1600.1 972h7.5M1600.1 954.42h7.5M1600.1 936.83h14.5M1600.1 919.25h7.5M1600.1 901.67h7.5M1600.1 884.08h7.5M1600.1 866.5h7.5M1600.1 848.92h14.5M1600.1 831.33h7.5M1600.1 813.75h7.5M1600.1 796.17h7.5M1600.1 778.58h7.5M1600.1 761h14.5" stroke="#000" stroke-width="2" fill="none"/>
<g font-size="30.8"><text x="1037.3" y="1344.5" text-anchor="middle" textLength="40.31" lengthAdjust="spacingAndGlyphs">1.0</text><text x="1131.1" y="1344.5" text-anchor="middle" textLength="40.31" lengthAdjust="spacingAndGlyphs">1.5</text><text x="1224.9" y="1344.5" text-anchor="middle" textLength="40.31" lengthAdjust="spacingAndGlyphs">2.0</text><text x="1318.7" y="1344.5" text-anchor="middle" textLength="40.31" lengthAdjust="spacingAndGlyphs">2.5</text><text x="1412.5" y="1344.5" text-anchor="middle" textLength="40.31" lengthAdjust="spacingAndGlyphs">3.0</text><text x="1506.3" y="1344.5" text-anchor="middle" textLength="40.31" lengthAdjust="spacingAndGlyphs">3.5</text><text x="1600.1" y="1344.5" text-anchor="middle" textLength="40.31" lengthAdjust="spacingAndGlyphs">4.0</text><text x="1004.1" y="1299.4" text-anchor="end" textLength="16.12" lengthAdjust="spacingAndGlyphs">0</text><text x="1004.1" y="1195.97" text-anchor="end" textLength="32.25" lengthAdjust="spacingAndGlyphs">50</text><text x="1004.1" y="1092.54" text-anchor="end" textLength="48.37" lengthAdjust="spacingAndGlyphs">100</text><text x="1004.1" y="989.11" text-anchor="end" textLength="48.37" lengthAdjust="spacingAndGlyphs">150</text><text x="1004.1" y="885.68" text-anchor="end" textLength="48.37" lengthAdjust="spacingAndGlyphs">200</text><text x="1004.1" y="782.25" text-anchor="end" textLength="48.37" lengthAdjust="spacingAndGlyphs">250</text><text x="1632.6" y="1299.4" textLength="16.12" lengthAdjust="spacingAndGlyphs">0</text><text x="1632.6" y="1211.48" textLength="16.12" lengthAdjust="spacingAndGlyphs">5</text><text x="1632.6" y="1123.57" textLength="32.25" lengthAdjust="spacingAndGlyphs">10</text><text x="1632.6" y="1035.65" textLength="32.25" lengthAdjust="spacingAndGlyphs">15</text><text x="1632.6" y="947.73" textLength="32.25" lengthAdjust="spacingAndGlyphs">20</text><text x="1632.6" y="859.82" textLength="32.25" lengthAdjust="spacingAndGlyphs">25</text><text x="1632.6" y="771.9" textLength="32.25" lengthAdjust="spacingAndGlyphs">30</text></g>
<rect x="198" y="73" width="100" height="25.25" fill="rgb(160,40,235)" fill-opacity="0.2"/>
<path d="M200 85.6H296.5" stroke="rgb(138,32,233)" stroke-width="2.8" stroke-linecap="round"/>
<text x="307.35" y="95.75" font-size="30.5" textLength="50.72" lengthAdjust="spacingAndGlyphs">Sun</text>
<rect x="198" y="115" width="100" height="25.5" fill="rgb(255,175,15)" fill-opacity="0.2"/>
<path d="M200 127.9H296.5" stroke="rgb(237,152,0)" stroke-width="2.8" stroke-linecap="round"/>
<text x="307.35" y="137.5" font-size="30.5" textLength="82.42" lengthAdjust="spacingAndGlyphs">Shade</text>
<rect x="198" y="157" width="100" height="25.5" fill="rgb(105,120,140)" fill-opacity="0.2"/>
<path d="M200 170H296.5" stroke="rgb(104,122,140)" stroke-width="2.8" stroke-linecap="round"/>
<text x="307.35" y="179.5" font-size="30.5" textLength="60.19" lengthAdjust="spacingAndGlyphs">Dark</text>
<text x="156.3" y="31" font-size="36" font-weight="bold">a</text>
<text x="1035.3" y="25.7" font-size="36" font-weight="bold">b</text>
<text x="156.3" y="734.6" font-size="36" font-weight="bold">c</text>
<text x="1035.3" y="734.6" font-size="36" font-weight="bold">d</text>
<text x="212.8" y="27.45" font-size="33.8" textLength="471.6" lengthAdjust="spacingAndGlyphs">Focus on people collecting water</text>
<text x="1092.8" y="26.9" font-size="33.8" textLength="472.2" lengthAdjust="spacingAndGlyphs">Focus on people collecting water</text>
<text x="237.6" y="730.8" font-size="33.8" textLength="424.1" lengthAdjust="spacingAndGlyphs">Focus on agricultural workers</text>
<text x="1116.5" y="730.8" font-size="33.8" textLength="424.3" lengthAdjust="spacingAndGlyphs">Focus on agricultural workers</text>
<text transform="translate(31 534.8) rotate(-90)" font-size="34.5" textLength="408.4" lengthAdjust="spacingAndGlyphs">Land area with <tspan font-style="italic">G</tspan><tspan font-size="22" dy="-16.5">day</tspan><tspan dy="16.5">&gt;0</tspan> (Mha)</text>
<text transform="translate(830.9 450.6) rotate(-90)" font-size="34.5" textLength="244.7" lengthAdjust="spacingAndGlyphs">Percent area (%)</text>
<text transform="translate(938.6 538) rotate(-90)" font-size="34.5" textLength="446.9" lengthAdjust="spacingAndGlyphs">Population with <tspan font-style="italic">G</tspan><tspan font-size="22" dy="-16.5">day</tspan><tspan dy="16.5">&gt;0</tspan> (million)</text>
<text transform="translate(1705.3 489) rotate(-90)" font-size="34.5" textLength="333" lengthAdjust="spacingAndGlyphs">Percent population (%)</text>
<text transform="translate(31 1238.8) rotate(-90)" font-size="34.5" textLength="408.4" lengthAdjust="spacingAndGlyphs">Land area with <tspan font-style="italic">G</tspan><tspan font-size="22" dy="-16.5">day</tspan><tspan dy="16.5">&gt;0</tspan> (Mha)</text>
<text transform="translate(830.9 1154.6) rotate(-90)" font-size="34.5" textLength="244.7" lengthAdjust="spacingAndGlyphs">Percent area (%)</text>
<text transform="translate(938.6 1242) rotate(-90)" font-size="34.5" textLength="446.9" lengthAdjust="spacingAndGlyphs">Population with <tspan font-style="italic">G</tspan><tspan font-size="22" dy="-16.5">day</tspan><tspan dy="16.5">&gt;0</tspan> (million)</text>
<text transform="translate(1705.3 1193) rotate(-90)" font-size="34.5" textLength="333" lengthAdjust="spacingAndGlyphs">Percent population (%)</text>
<text x="200.6" y="1392" font-size="34.5" textLength="476.2" lengthAdjust="spacingAndGlyphs">Warming since pre-industrial (<tspan font-size="22" dy="-15.5">o</tspan><tspan dy="15.5">C)</tspan></text>
<text x="1079" y="1392" font-size="34.5" textLength="476.2" lengthAdjust="spacingAndGlyphs">Warming since pre-industrial (<tspan font-size="22" dy="-15.5">o</tspan><tspan dy="15.5">C)</tspan></text>
</svg>
</body></html>
